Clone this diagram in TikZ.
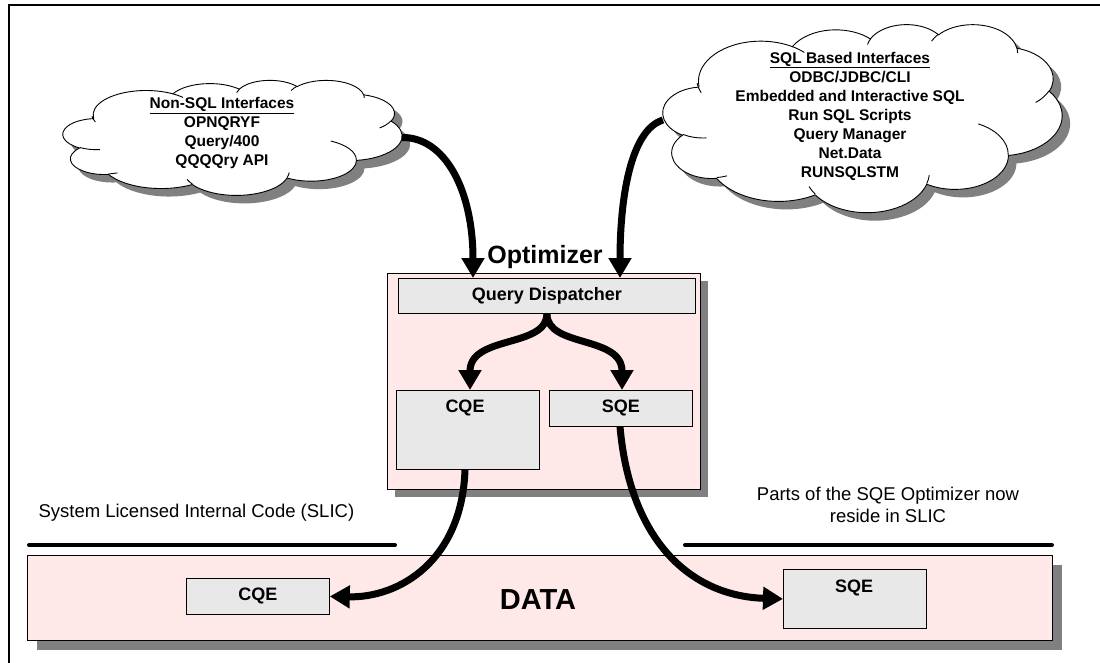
\documentclass[tikz,border=0pt]{standalone}
\usepackage{fontspec}
\setmainfont{Liberation Sans}
\usetikzlibrary{arrows.meta,calc,shadows}

\definecolor{boxpink}{RGB}{255,232,232}
\definecolor{boxgray}{RGB}{232,232,232}
\definecolor{shadowgray}{RGB}{128,128,128}

% one puff of the cloud outline: x radius, y radius, start angle, sweep
\newcommand\pf[4]{arc[start angle={vis(#3,#1,#2)}, end angle={vis(#3+#4,#1,#2)}, x radius=#1, y radius=#2]}
% a cloud drawn in a 100 x 100 frame (y pointing down), with shadow and creases
\newcommand\bubbleshape{%
  \draw[line width=0.9pt, fill=white,
        preaction={fill=shadowgray, transform canvas={xshift=8pt, yshift=-8pt}}]
    (9.028,33.264) \pf{15.632}{21.273}{-190.4875}{123.7805}
    \pf{12.345}{16.822}{-144.1024}{89.9452}
    \pf{10.104}{13.762}{-145.8079}{99.7230}
    \pf{11.243}{15.266}{-130.9861}{117.2417}
    \pf{12.345}{16.836}{-78.7089}{109.0269}
    \pf{15.683}{21.343}{-46.2673}{130.2690}
    \pf{13.391}{18.211}{0.6250}{114.0333}
    \pf{15.630}{21.331}{22.4516}{115.1726}
    \pf{17.870}{24.405}{66.2426}{75.7110}
    \pf{10.093}{13.699}{-274.9421}{146.7356}
    \pf{10.058}{13.762}{-246.8285}{152.5189} -- cycle;
  \draw[line width=0.9pt]
    (10.863,60.595) \pf{10.058}{13.762}{86.7420}{26.4295}
    (16.037,80.785) \pf{10.093}{13.699}{73.6105}{11.4475}
    (38.144,90.486) \pf{15.630}{21.331}{137.6242}{14.0811}
    (66.729,80.442) \pf{15.630}{21.331}{6.4533}{15.9984}
    (79.002,53.134) \pf{13.391}{18.211}{-70.2924}{70.9174}
    (96.755,35.542) \pf{12.345}{16.836}{30.3180}{27.7515}
    (88.713,12.560) \pf{11.243}{15.266}{-13.7443}{14.8538}
    (67.310,9.148)  \pf{11.243}{15.266}{-149.1815}{18.1959}
    (51.252,10.926) \pf{10.104}{13.762}{-163.4943}{17.6879}
    (32.407,12.019) \pf{15.632}{21.273}{-66.7070}{12.3194}
    (9.553,36.549)  \pf{15.632}{21.273}{150.7980}{18.0458};
}

\begin{document}
\begin{tikzpicture}[x=1pt,y=-1pt,
  declare function={vis(\t,\w,\h)=\t+mod(atan2(\w*sin(\t),\h*cos(\t))-\t+540,360)-180;},
  shade8/.style={general shadow={fill=shadowgray, shadow xshift=8pt, shadow yshift=-8pt}},
  shade10/.style={general shadow={fill=shadowgray, shadow xshift=10pt, shadow yshift=-10pt}},
  area/.style={inner sep=0pt, outer sep=0pt},
  panel/.style={draw=black, line width=0.9pt, fill=boxpink, anchor=north west, inner sep=0pt},
  unitbox/.style={draw=black, line width=0.8pt, fill=boxgray, anchor=north west, inner sep=0pt},
  cloudtext/.style={font=\bfseries\fontsize{15.5}{19}\selectfont, align=center},
  unittext/.style={font=\bfseries\fontsize{18}{21}\selectfont},
  note/.style={font=\fontsize{18.5}{22}\selectfont, align=center},
  flow/.style={line width=7pt, -{Triangle[width=22pt,length=20pt]}},
  divider/.style={line width=4pt, line cap=round}
]
\useasboundingbox (0,0) rectangle (1100,663);

% outer frame (top and left edges)
\draw[line width=1.5pt] (9,663) -- (9,5) -- (1100,5);

% interface clouds
\begin{scope}[shift={(63,80)}, x=3.39pt, y=-1.15pt]
  \bubbleshape
\end{scope}
\node[area, minimum width=339pt, minimum height=115pt] (lcloud) at (232.5,137.5) {};
\node[cloudtext] (ltext) at (222,133)
  {\underline{Non-SQL Interfaces}\\OPNQRYF\\Query/400\\QQQQry API};

\begin{scope}[shift={(663,24)}, x=3.99pt, y=-1.88pt]
  \bubbleshape
\end{scope}
\node[area, minimum width=399pt, minimum height=188pt] (rcloud) at (862.5,120) {};
\node[cloudtext] (rtext) at (850,116)
  {\underline{SQL Based Interfaces}\\ODBC/JDBC/CLI\\Embedded and Interactive SQL\\Run SQL Scripts\\Query Manager\\Net.Data\\RUNSQLSTM};

% optimizer
\node[panel, shade8, minimum width=313pt, minimum height=216pt] (opt) at (387,273) {};
\node[font=\bfseries\fontsize{25}{30}\selectfont] (optlabel) at (545,257) {Optimizer};
\node[unitbox, minimum width=297pt, minimum height=35pt] (qd) at (398,278) {};
\node[unittext] (qdtext) at (qd.center) {Query Dispatcher};
\node[unitbox, minimum width=143pt, minimum height=79pt] (cqeA) at (396,390) {};
\node[unittext] (cqeAtext) at (465,408) {CQE};
\node[unitbox, minimum width=143pt, minimum height=36pt] (sqeA) at (549,390) {};
\node[unittext] (sqeAtext) at (sqeA.center) {SQE};

% SLIC area
\node[note, anchor=west] (slic) at (35,513) {System Licensed Internal Code (SLIC)};
\node[note] (parts) at (888,505) {Parts of the SQE Optimizer now\\reside in SLIC};
\draw[divider] (29,545) -- (395,545);
\draw[divider] (685,545) -- (1052,545);

\node[panel, shade10, minimum width=1025pt, minimum height=85pt] (data) at (27,555) {};
\node[font=\bfseries\fontsize{29}{34}\selectfont] (datatext) at (538,600) {DATA};
\node[unitbox, minimum width=143pt, minimum height=36pt] (cqeB) at (186,578) {};
\node[unittext] (cqeBtext) at (cqeB.center) {CQE};
\node[unitbox, minimum width=143pt, minimum height=59pt] (sqeB) at (783,569) {};
\node[unittext] (sqeBtext) at (854,588) {SQE};

% flows
\draw[flow] (lcloud.east) .. controls (445,137) and (473,190) .. ([xshift=75pt]qd.north west);
\draw[flow] (rcloud.west) .. controls (630,130) and (620,200) .. ([xshift=222pt]qd.north west);
\draw[flow] (qd.south) .. controls (547,348) and (470,335) .. ([xshift=74pt]cqeA.north west);
\draw[flow] (qd.south) .. controls (547,348) and (622,335) .. ([xshift=73pt]sqeA.north west);
\draw[flow] ([xshift=69pt]cqeA.south west) .. controls (462,560) and (400,598) .. (cqeB.east);
\draw[flow] ([xshift=71pt]sqeA.south west) .. controls (630,540) and (690,596) .. (sqeB.west);
\end{tikzpicture}
\end{document}
